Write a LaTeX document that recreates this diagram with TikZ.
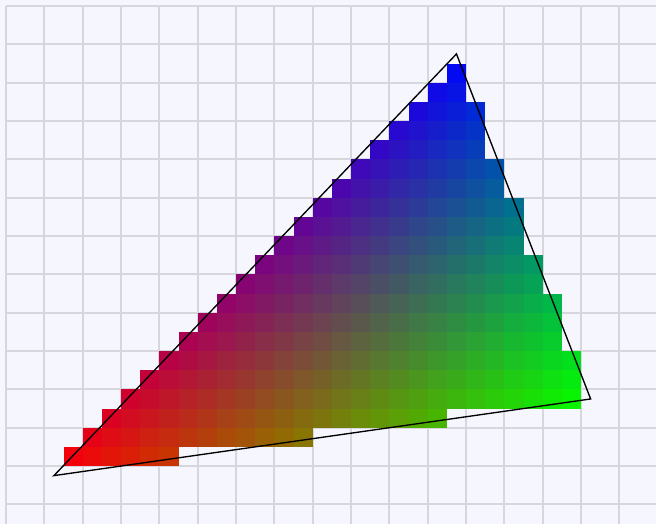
\documentclass[tikz,border=0pt]{standalone}
\usepackage{tikz}
\usetikzlibrary{calc}

\definecolor{paper}{RGB}{246,247,254}
\definecolor{gridline}{RGB}{214,214,220}

\begin{document}
\begin{tikzpicture}[
	x=0.5cm, y=-0.5cm,
	gridlines/.style={draw=gridline, line width=1.45pt},
	cell/.style={line width=0pt},
	edge/.style={draw=black, line width=1pt, line join=miter}
]
	% Background and grid
	\fill[paper] (-0.313,-0.313) rectangle (33.91,27.02);
	\useasboundingbox (-0.313,-0.313) rectangle (33.91,27.02);
	\draw[gridlines] (0,0) grid (33.91,27.02);

	% Triangle corners
	\coordinate (red) at (2.5,24.5);
	\coordinate (blue) at (23.5,2.5);
	\coordinate (green) at (30.5,20.5);

	% Rasterised cells (sampled at the cell centre)
	\foreach \i in {0,...,32}{
		\foreach \j in {0,...,26}{
			\pgfmathtruncatemacro{\wblue}{(\i-2)*(-4)-(\j-24)*28}
			\pgfmathtruncatemacro{\wgreen}{21*(\j-24)+22*(\i-2)}
			\pgfmathtruncatemacro{\wred}{532-\wblue-\wgreen}
			\pgfmathtruncatemacro{\inside}{(\wred>0)&&(\wblue>0)&&(\wgreen>0)}
			\ifnum\inside=1
				\pgfmathtruncatemacro{\valr}{round(\wred*0.47932)}
				\pgfmathtruncatemacro{\valg}{round(\wgreen*0.47932)}
				\pgfmathtruncatemacro{\valb}{round(\wblue*0.47932)}
				\definecolor{cellcol}{RGB}{\valr,\valg,\valb}
				\fill[cell, cellcol] (\i,\j) rectangle ++(1,1);
			\fi
		}
	}

	% Outline
	\draw[edge] (red) -- (blue) -- (green) -- cycle;
\end{tikzpicture}
\end{document}
